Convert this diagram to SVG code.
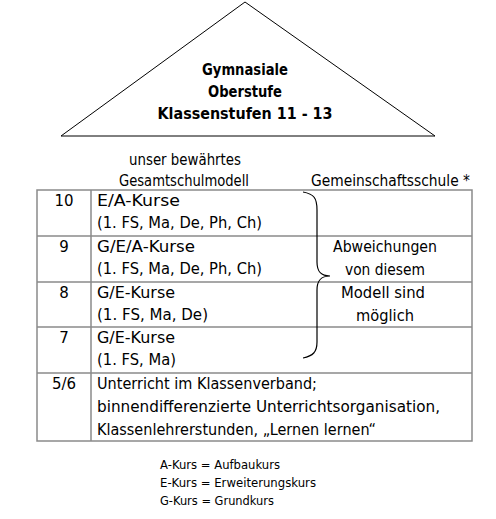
<svg xmlns="http://www.w3.org/2000/svg" width="496" height="519" viewBox="0 0 496 519">
<style>
text{font-family:"DejaVu Sans","Liberation Sans",sans-serif;fill:#000}
.t{font-size:15px}
.b{font-size:15px;font-weight:bold}
.s{font-size:12px}
.c{text-anchor:middle}
.grid{stroke:#8a8a8a;stroke-width:1.5;fill:none}
.br{stroke:#000;stroke-width:1.2;fill:none}
</style>
<rect width="496" height="519" fill="#fff"/>
<g id="roof">
<polygon points="245,2 61,136 435,136" fill="#fff" stroke="#000" stroke-width="1"/>
<text class="b c" x="245" y="75" textLength="86" lengthAdjust="spacingAndGlyphs">Gymnasiale</text>
<text class="b c" x="245" y="97" textLength="74" lengthAdjust="spacingAndGlyphs">Oberstufe</text>
<text class="b c" x="245" y="119" textLength="175" lengthAdjust="spacingAndGlyphs">Klassenstufen 11 - 13</text>
</g>
<g id="headers">
<text class="t c" x="185" y="165" textLength="112" lengthAdjust="spacingAndGlyphs">unser bewährtes</text>
<text class="t c" x="184" y="186" textLength="130" lengthAdjust="spacingAndGlyphs">Gesamtschulmodell</text>
<text class="t" x="311" y="186" textLength="159" lengthAdjust="spacingAndGlyphs">Gemeinschaftsschule *</text>
</g>
<g id="table" class="grid">
<rect x="37" y="190" width="435" height="251"/>
<line x1="91" y1="190" x2="91" y2="441"/>
<line x1="37" y1="236" x2="472" y2="236"/>
<line x1="37" y1="282" x2="472" y2="282"/>
<line x1="37" y1="327" x2="472" y2="327"/>
<line x1="37" y1="373" x2="472" y2="373"/>
</g>
<g id="row10">
<text class="t c" x="64" y="206">10</text>
<text class="t" x="97" y="206" textLength="83" lengthAdjust="spacingAndGlyphs">E/A-Kurse</text>
<text class="t" x="97" y="228" textLength="165" lengthAdjust="spacingAndGlyphs">(1. FS, Ma, De, Ph, Ch)</text>
</g>
<g id="row9">
<text class="t c" x="64" y="252">9</text>
<text class="t" x="97" y="252" textLength="98" lengthAdjust="spacingAndGlyphs">G/E/A-Kurse</text>
<text class="t" x="97" y="274" textLength="165" lengthAdjust="spacingAndGlyphs">(1. FS, Ma, De, Ph, Ch)</text>
</g>
<g id="row8">
<text class="t c" x="64" y="298">8</text>
<text class="t" x="97" y="298" textLength="78" lengthAdjust="spacingAndGlyphs">G/E-Kurse</text>
<text class="t" x="97" y="320" textLength="111" lengthAdjust="spacingAndGlyphs">(1. FS, Ma, De)</text>
</g>
<g id="row7">
<text class="t c" x="64" y="343">7</text>
<text class="t" x="97" y="343" textLength="78" lengthAdjust="spacingAndGlyphs">G/E-Kurse</text>
<text class="t" x="97" y="365" textLength="79" lengthAdjust="spacingAndGlyphs">(1. FS, Ma)</text>
</g>
<g id="row56">
<text class="t c" x="64" y="389">5/6</text>
<text class="t" x="97" y="389" textLength="220" lengthAdjust="spacingAndGlyphs">Unterricht im Klassenverband;</text>
<text class="t" x="97" y="412" textLength="343" lengthAdjust="spacingAndGlyphs">binnendifferenzierte Unterrichtsorganisation,</text>
<text class="t" x="97" y="435" textLength="279" lengthAdjust="spacingAndGlyphs">Klassenlehrerstunden, „Lernen lernen“</text>
</g>
<g id="note">
<text class="t c" x="385" y="252" textLength="104" lengthAdjust="spacingAndGlyphs">Abweichungen</text>
<text class="t c" x="385" y="275" textLength="80" lengthAdjust="spacingAndGlyphs">von diesem</text>
<text class="t c" x="383" y="298" textLength="84" lengthAdjust="spacingAndGlyphs">Modell sind</text>
<text class="t c" x="385" y="321" textLength="58" lengthAdjust="spacingAndGlyphs">möglich</text>
</g>
<g id="connectors">
<path class="br" d="M303,192 C314,194 317,198 317,210 L317,262 C317,272 321,276 330,276 C321,276 317,280 317,290 L317,342 C317,352 313,356 303,358"/>
</g>
<g id="legend">
<text class="s" x="160" y="469" textLength="120" lengthAdjust="spacingAndGlyphs">A-Kurs = Aufbaukurs</text>
<text class="s" x="160" y="487" textLength="156" lengthAdjust="spacingAndGlyphs">E-Kurs = Erweiterungskurs</text>
<text class="s" x="160" y="505" textLength="114" lengthAdjust="spacingAndGlyphs">G-Kurs = Grundkurs</text>
</g>
</svg>
